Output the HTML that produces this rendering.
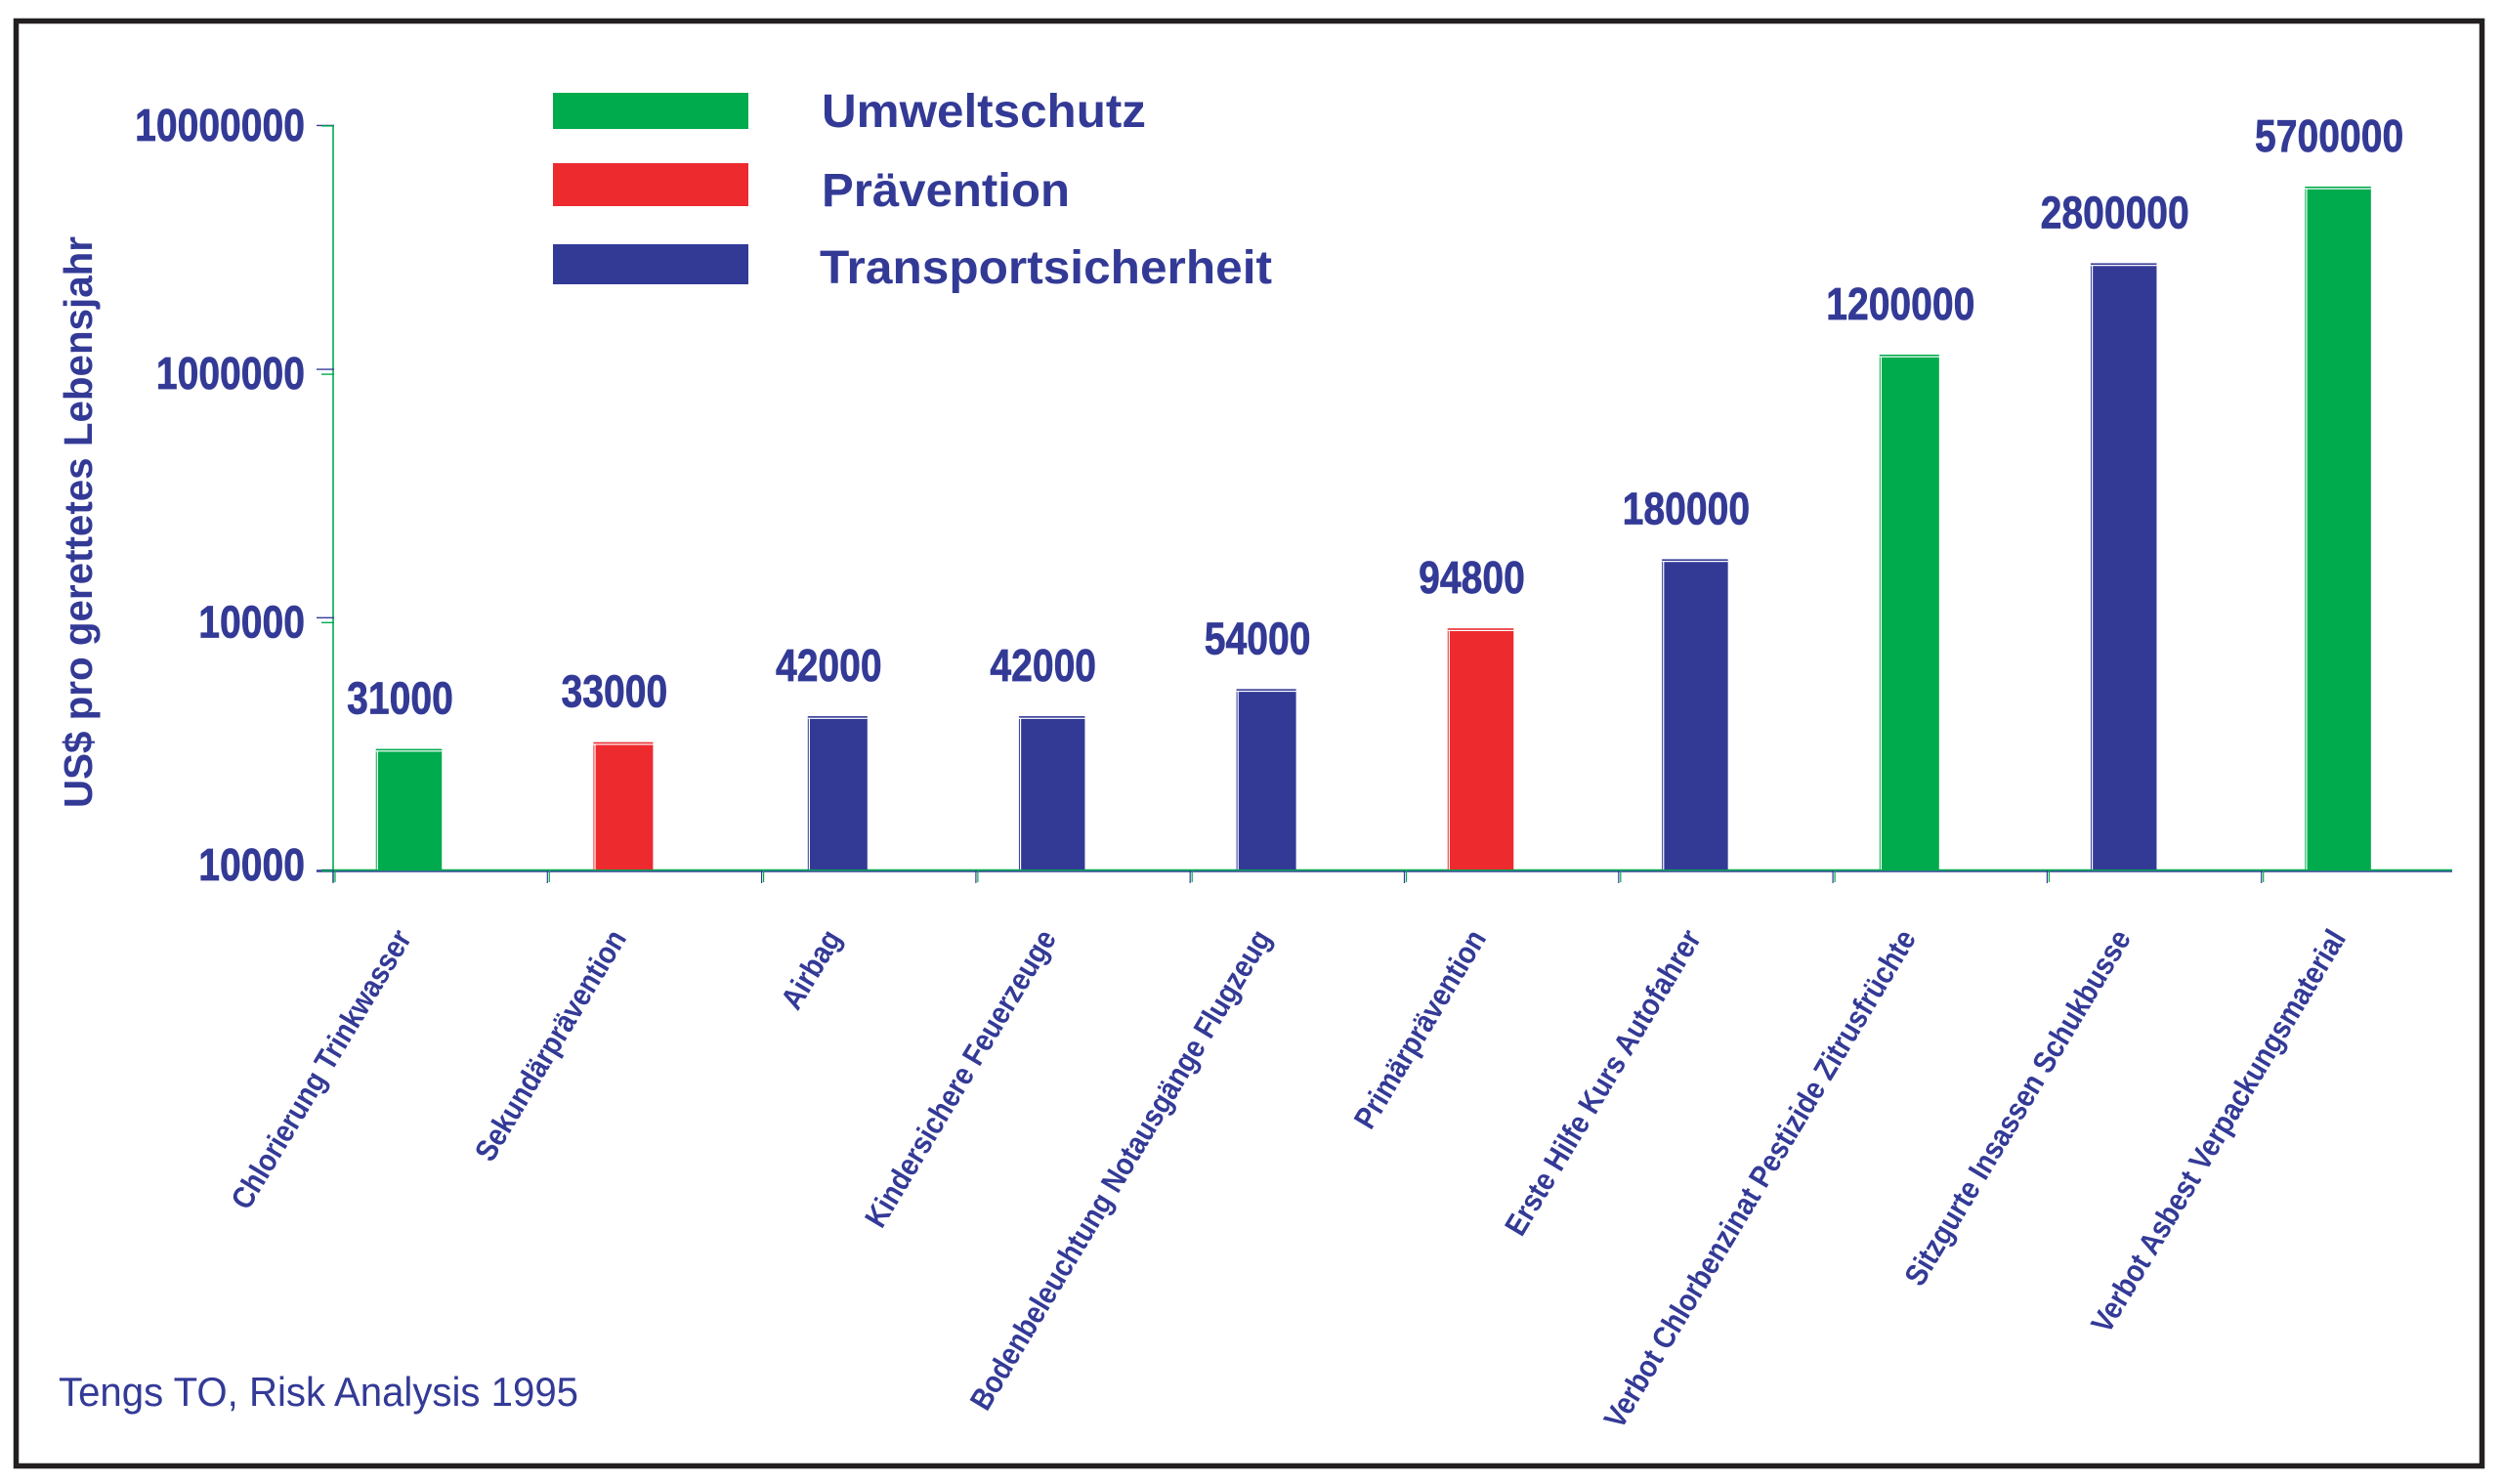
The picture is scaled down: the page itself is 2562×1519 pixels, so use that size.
<!DOCTYPE html>
<html lang="de">
<head>
<meta charset="utf-8">
<title>US$ pro gerettetes Lebensjahr</title>
<style>
  html, body { margin: 0; padding: 0; background: #fff; }
  svg { display: block; }
  text { font-family: "Liberation Sans", sans-serif; font-weight: 700; fill: #333a96; }
  .heavy { stroke: #333a96; stroke-width: 0.7; }
</style>
</head>
<body>
<svg id="chart" xmlns="http://www.w3.org/2000/svg" width="2562" height="1519" viewBox="0 0 2562 1519">
  <rect x="0" y="0" width="2562" height="1519" fill="#ffffff"/>
  <rect x="16.5" y="21.5" width="2524" height="1479" fill="none" stroke="#231f20" stroke-width="5.5"/>
  <text transform="translate(94,827) rotate(-90)" font-size="41" textLength="585" lengthAdjust="spacingAndGlyphs">US$ pro gerettetes Lebensjahr</text>
  <text x="60" y="1439" font-size="42" style="font-weight:400" textLength="532" lengthAdjust="spacingAndGlyphs">Tengs TO, Risk Analysis 1995</text>
  <rect x="566" y="95" width="200" height="37" fill="#00ab4e"/>
  <rect x="566" y="167" width="200" height="44" fill="#ed2a2e"/>
  <rect x="566" y="250" width="200" height="41" fill="#333a96"/>
  <text x="841" y="130" font-size="48" textLength="332" lengthAdjust="spacingAndGlyphs">Umweltschutz</text>
  <text x="841" y="211" font-size="48" textLength="254" lengthAdjust="spacingAndGlyphs">Prävention</text>
  <text x="839" y="290" font-size="48" textLength="463" lengthAdjust="spacingAndGlyphs">Transportsicherheit</text>
  <g id="axes"></g>
  <g id="bars"></g>
  <g id="labels"></g>
</svg>
<script>
const categories = [
  'Chlorierung Trinkwasser',
  'Sekundärprävention',
  'Airbag',
  'Kindersichere Feuerzeuge',
  'Bodenbeleuchtung Notausgänge Flugzeug',
  'Primärprävention',
  'Erste Hilfe Kurs Autofahrer',
  'Verbot Chlorbenzinat Pestizide Zitrusfrüchte',
  'Sitzgurte Insassen Schukbusse',
  'Verbot Asbest Verpackungsmaterial'
];
const costValues = [31000, 33000, 42000, 42000, 54000, 94800, 180000, 1200000, 2800000, 5700000];
const groups = ['Umweltschutz', 'Prävention', 'Transportsicherheit', 'Transportsicherheit', 'Transportsicherheit', 'Prävention', 'Transportsicherheit', 'Umweltschutz', 'Transportsicherheit', 'Umweltschutz'];
const tickValues = [10000, 100000, 1000000, 10000000];
const tickLabels = ['10000', '10000', '1000000', '10000000'];

const NS = 'http://www.w3.org/2000/svg';
const NAVY = '#333a96';
const GREEN = '#00ab4e';
const groupColor = { 'Umweltschutz': GREEN, 'Prävention': '#ed2a2e', 'Transportsicherheit': NAVY };
const narrowBars = new Set([1, 2, 4, 7]);

function yScale(v) { return 891.5 - (Math.log10(v) - 4) * 254.2; }
function barCenter(i) { return 418.5 + 219.4 * i; }
function tickX(i) { return 341 + 219.3 * i; }
function labelEndX(i) { return 422 + 220 * i; }

const axes = document.getElementById('axes');
const bars = document.getElementById('bars');
const labels = document.getElementById('labels');

function make(tag, parent, attrs, content) {
  const el = document.createElementNS(NS, tag);
  for (const k in attrs) el.setAttribute(k, attrs[k]);
  if (content !== undefined) el.textContent = content;
  parent.appendChild(el);
  return el;
}

let el;
el = make('line', axes, { x1: 341, x2: 341, y1: 129, y2: 903, stroke: GREEN, 'stroke-width': 1.6 });


el = make('line', axes, { x1: 324, x2: 2510, y1: 892, y2: 892, stroke: NAVY, 'stroke-width': 1.4 });


el = make('line', axes, { x1: 329, x2: 2510, y1: 890.6, y2: 890.6, stroke: GREEN, 'stroke-width': 1.6 });



tickValues.forEach(function (v, i) {
  const y = yScale(v);
  const navyY = (i === 1 || i === 2) ? y - 5 : y - 0.5;
  let t = make('line', axes, { x1: 324, x2: 342, y1: navyY, y2: navyY, stroke: NAVY, 'stroke-width': 1.4 });
  
  
  t = make('line', axes, { x1: 329, x2: 342, y1: y, y2: y, stroke: GREEN, 'stroke-width': 1.4 });
  
  
  const ly = i === 0 ? y + 9.5 : y + 15;
  t = make('text', labels, { class: 'heavy', transform: 'translate(312,' + ly + ') scale(0.85,1)', 'font-size': 46, 'text-anchor': 'end' }, tickLabels[i]);
  
  
});

categories.forEach(function (name, i) {
  const x = tickX(i);
  let t = make('line', axes, { x1: x, x2: x, y1: 891, y2: 904, stroke: NAVY, 'stroke-width': 1.2 });
  
  
  t = make('line', axes, { x1: x + 2, x2: x + 2, y1: 891, y2: 903, stroke: GREEN, 'stroke-width': 1.2 });
  
  

  const c = barCenter(i);
  const w = narrowBars.has(i) ? 61 : 67.5;
  const left = c - w / 2;
  const top = yScale(costValues[i]);
  const color = groupColor[groups[i]];

  const bar = make('rect', bars, { x: left, y: top, width: w, height: 890 - top, fill: color });
  
  
  let hl = make('rect', bars, { x: left, y: top + 1.6, width: w, height: 1.2, fill: '#ffffff' });
  
  
  hl = make('rect', bars, { x: left + 1, y: top + 1.6, width: 1.2, height: 888.4 - top, fill: '#ffffff' });
  
  

  const val = make('text', labels, { class: 'heavy', transform: 'translate(' + (c - 9) + ',' + (top - 36) + ') scale(0.85,1)', 'font-size': 46, 'text-anchor': 'middle' }, String(costValues[i]));
  
  

  const cat = make('text', labels, { transform: 'translate(' + labelEndX(i) + ',960) rotate(-59) scale(0.885,1)', 'font-size': 31.5, 'text-anchor': 'end' }, name);
  
  
});
</script>
</body>
</html>
